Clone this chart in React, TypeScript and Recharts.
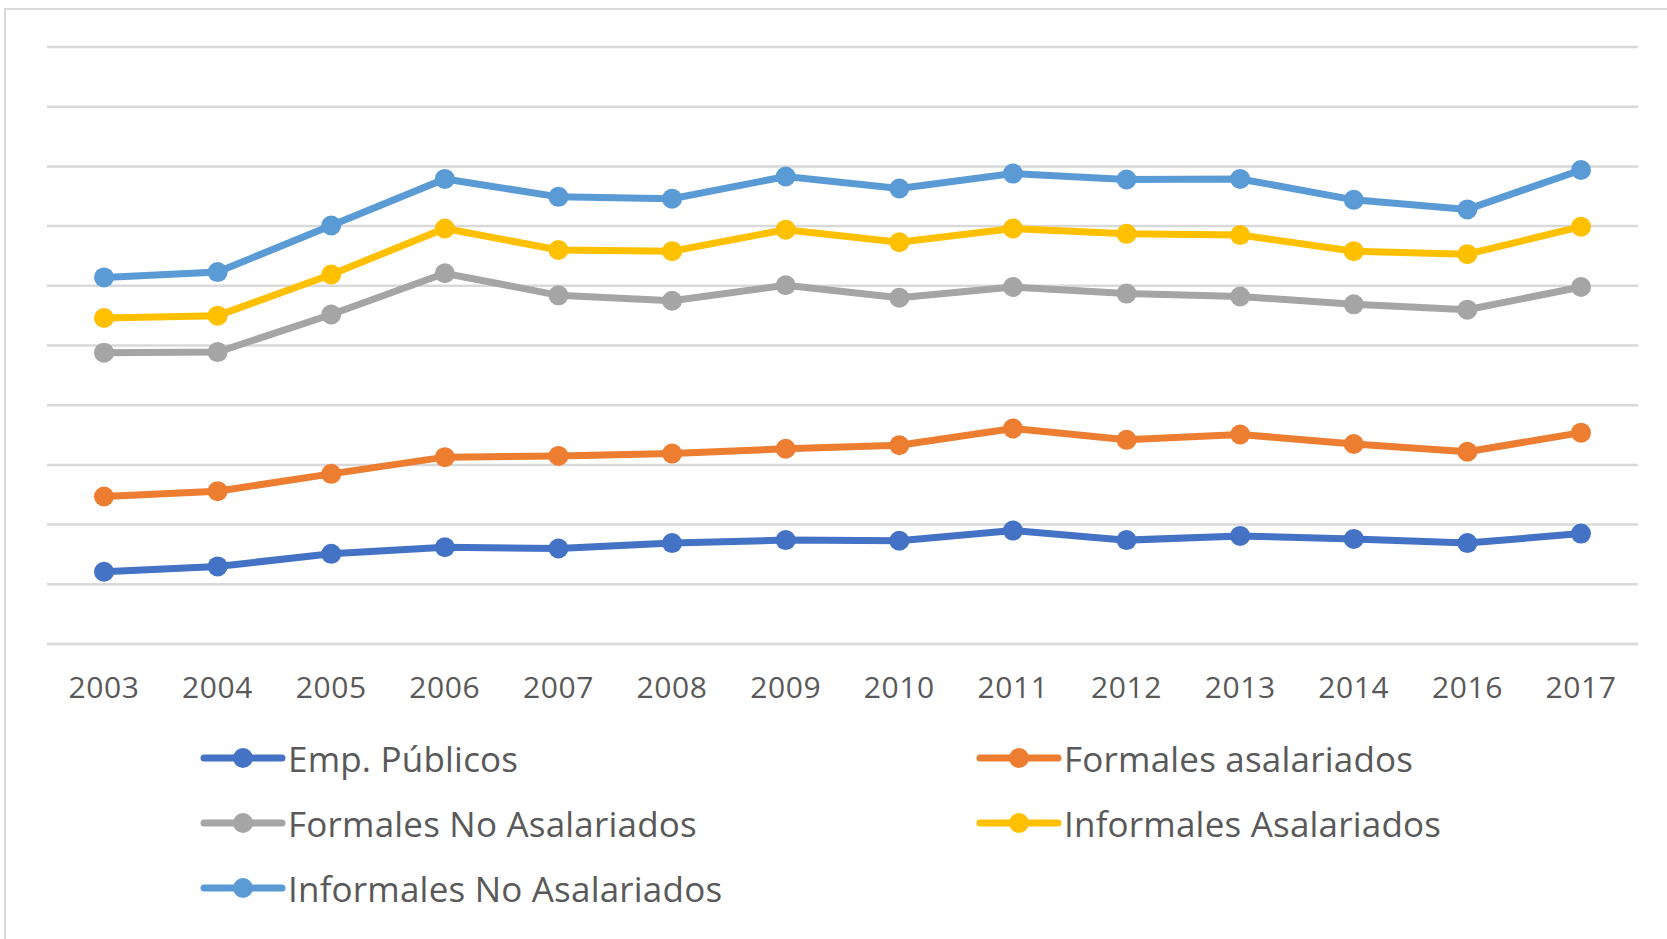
import { LineChart, Line, XAxis, YAxis, CartesianGrid } from 'recharts';

const years = ['2003', '2004', '2005', '2006', '2007', '2008', '2009', '2010', '2011', '2012', '2013', '2014', '2016', '2017'];

const empPublicos = [1.21, 1.3, 1.51, 1.62, 1.6, 1.69, 1.74, 1.73, 1.9, 1.74, 1.81, 1.76, 1.69, 1.85];
const formalesAsalariados = [2.47, 2.56, 2.85, 3.13, 3.15, 3.19, 3.27, 3.33, 3.61, 3.42, 3.51, 3.35, 3.22, 3.54];
const formalesNoAsalariados = [4.88, 4.89, 5.52, 6.21, 5.84, 5.75, 6.01, 5.8, 5.98, 5.87, 5.82, 5.69, 5.6, 5.98];
const informalesAsalariados = [5.46, 5.5, 6.19, 6.96, 6.6, 6.58, 6.94, 6.73, 6.96, 6.87, 6.85, 6.58, 6.53, 6.99];
const informalesNoAsalariados = [6.14, 6.23, 7.01, 7.79, 7.49, 7.46, 7.83, 7.63, 7.88, 7.78, 7.79, 7.44, 7.28, 7.94];

const yTicks = [0, 1, 2, 3, 4, 5, 6, 7, 8, 9, 10];

const series = [
  { key: 'emp', name: 'Emp. Públicos', color: '#4472C4', values: empPublicos },
  { key: 'fa', name: 'Formales asalariados', color: '#ED7D31', values: formalesAsalariados },
  { key: 'fna', name: 'Formales No Asalariados', color: '#A5A5A5', values: formalesNoAsalariados },
  { key: 'ia', name: 'Informales Asalariados', color: '#FFC000', values: informalesAsalariados },
  { key: 'ina', name: 'Informales No Asalariados', color: '#5B9BD5', values: informalesNoAsalariados },
];

const data = years.map((year, i) => {
  const row: Record<string, string | number> = { year };
  series.forEach((s) => {
    row[s.key] = s.values[i];
  });
  return row;
});

const FONT = '"Open Sans", "Noto Sans", sans-serif';
const TEXT = '#595959';
const GRID = '#d9d9d9';

// legend slots: column x of the icon, row y of the centre
const legendPos = [
  { left: 200, top: 758 },
  { left: 976, top: 758 },
  { left: 200, top: 823 },
  { left: 976, top: 823 },
  { left: 200, top: 888 },
];

function LegendItem({ name, color, left, top }: { name: string; color: string; left: number; top: number }) {
  return (
    <div
      style={{
        position: 'absolute',
        left,
        top: top - 25,
        height: 50,
        display: 'flex',
        alignItems: 'center',
        fontFamily: FONT,
        fontSize: 35,
        letterSpacing: 0.2,
        color: TEXT,
        whiteSpace: 'nowrap',
      }}
    >
      <svg width={86} height={24} style={{ marginRight: 2 }}>
        <line x1={4} y1={12} x2={82} y2={12} stroke={color} strokeWidth={7} strokeLinecap="round" />
        <circle cx={43} cy={12} r={10} fill={color} />
      </svg>
      <span>{name}</span>
    </div>
  );
}

export default function App() {
  return (
    <div style={{ position: 'absolute', left: 0, top: 0, width: 1667, height: 939, background: '#fff', overflow: 'hidden' }}>
      <div
        style={{
          position: 'absolute',
          left: 4,
          top: 8,
          width: 1700,
          height: 1000,
          borderTop: `2px solid ${GRID}`,
          borderLeft: `2px solid ${GRID}`,
        }}
      />
      <div style={{ position: 'absolute', left: 0, top: 0 }}>
        <LineChart
          width={1667}
          height={939}
          data={data}
          margin={{ top: 47, right: 29, left: 47, bottom: 235 }}
        >
          <CartesianGrid horizontal vertical={false} stroke={GRID} strokeWidth={2.5} />
          <XAxis
            dataKey="year"
            height={60}
            axisLine={{ stroke: GRID, strokeWidth: 2.5 }}
            tickLine={false}
            tickMargin={27}
            interval={0}
            padding={{ left: 57, right: 57 }}
            tick={{ fill: TEXT, fontSize: 30, fontFamily: FONT, letterSpacing: 0.6 }}
          />
          <YAxis hide domain={[0, 10]} ticks={yTicks} interval={0} />
          {series.map((s) => (
            <Line
              key={s.key}
              type="linear"
              dataKey={s.key}
              name={s.name}
              stroke={s.color}
              strokeWidth={7}
              dot={{ r: 10, fill: s.color, stroke: s.color, strokeWidth: 0 }}
              activeDot={false}
              isAnimationActive={false}
            />
          ))}
        </LineChart>
      </div>
      {series.map((s, i) => (
        <LegendItem key={s.key} name={s.name} color={s.color} left={legendPos[i].left} top={legendPos[i].top} />
      ))}
    </div>
  );
}
